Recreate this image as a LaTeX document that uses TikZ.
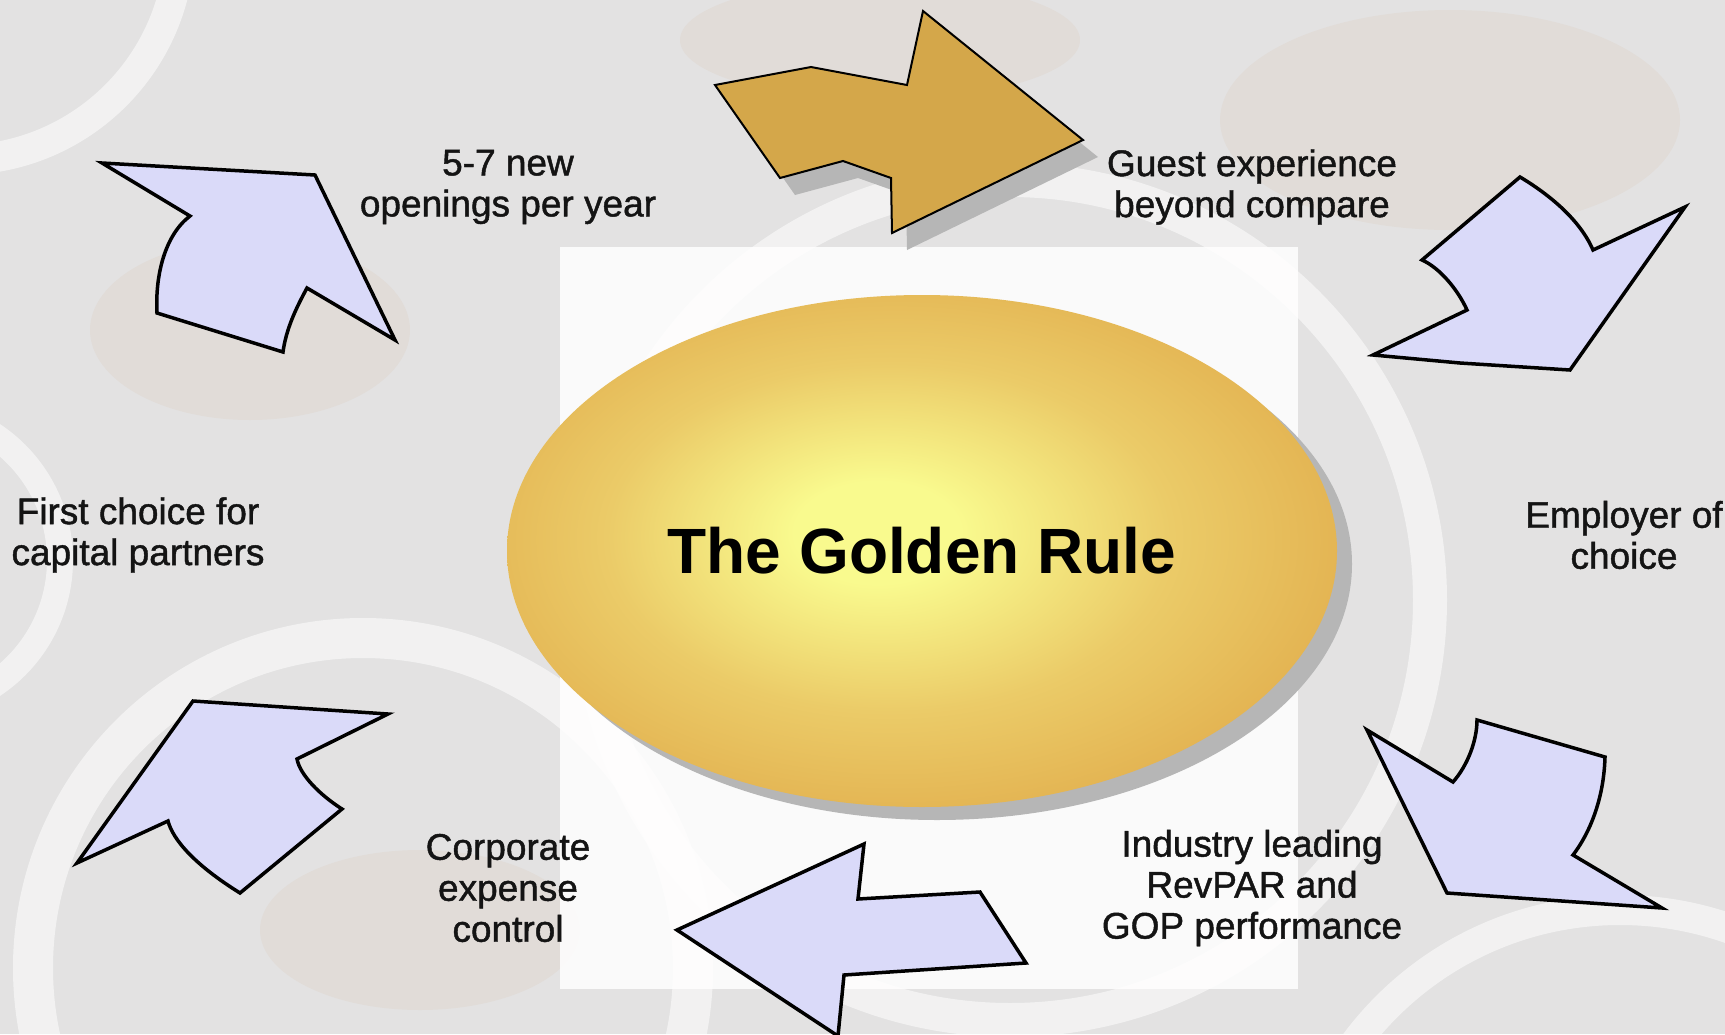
\documentclass[tikz,border=0pt]{standalone}
\usepackage{fontspec}
\setmainfont{Liberation Sans}
\usetikzlibrary{shapes.geometric}
\definecolor{bg}{HTML}{E3E2E2}
\definecolor{lav}{HTML}{DADAF9}
\definecolor{goldarrow}{HTML}{D4A74A}
\definecolor{goldedge}{HTML}{E1AD4C}
\definecolor{goldmid}{HTML}{EBCB68}
\definecolor{goldcore}{HTML}{F9FA8E}
\definecolor{shadowgray}{HTML}{B6B6B6}
\definecolor{warm}{HTML}{C8803A}
\pgfdeclareradialshading{goldshade}{\pgfpoint{-3bp}{2bp}}{color(0bp)=(goldcore); color(5bp)=(goldcore); color(17bp)=(goldmid); color(30bp)=(goldedge); color(50bp)=(goldedge)}
\tikzset{
  lavarrow/.style={fill=lav, draw=black, line width=3.5pt, line join=miter},
  goldarr/.style={fill=goldarrow, draw=black, line width=2pt, line join=miter},
  shadowfill/.style={fill=shadowgray},
  lbl/.style={align=center, inner sep=0pt, text=black!92, font=\addfontfeature{FakeBold=1.2}\fontsize{37}{41}\selectfont},
  bgring/.style={draw=white, opacity=0.55},
  bgwarm/.style={fill=warm, opacity=0.06}
}
\begin{document}
\begin{tikzpicture}[x=1pt,y=-1pt]
\useasboundingbox (0,0) rectangle (1725,1034);
% background photo (approximation)
\fill[bg] (0,0) rectangle (1725,1034);
\begin{scope}
\clip (0,0) rectangle (1725,1034);
\fill[bgwarm] (250,330) ellipse[x radius=160, y radius=90];
\fill[bgwarm] (880,40) ellipse[x radius=200, y radius=60];
\fill[bgwarm] (1450,120) ellipse[x radius=230, y radius=110];
\fill[bgwarm] (420,930) ellipse[x radius=160, y radius=80];
\draw[bgring, line width=40] (363,968) circle[radius=330];
\draw[bgring, line width=34] (1010,600) circle[radius=420];
\draw[bgring, line width=30] (1620,1240) circle[radius=330];
\draw[bgring, line width=30] (-40,-60) circle[radius=220];
\draw[bgring, line width=26] (-90,560) circle[radius=150];
\fill[white, opacity=0.85] (560,247) rectangle (1298,989);
\end{scope}
% top gold arrow with shadow
\fill[shadowfill, shift={(15,17)}] (715,85) -- (811,67) -- (907,85) -- (923,11) -- (1083,140) -- (892,233) -- (891,178) -- (843,161) -- (780,178) -- cycle;
\path[goldarr] (715,85) -- (811,67) -- (907,85) -- (923,11) -- (1083,140) -- (892,233) -- (891,178) -- (843,161) -- (780,178) -- cycle;
% upper right arrow
\path[lavarrow] (1520,177) .. controls (1550,195) and (1580,220) .. (1593,250) -- (1685,207) -- (1570,370) -- (1460,363) -- (1373,355) -- (1467,310) .. controls (1458,290) and (1440,268) .. (1422,260) -- cycle;
% lower right arrow
\path[lavarrow] (1367,730) -- (1453,782) .. controls (1468,765) and (1477,740) .. (1477,720) -- (1605,757) .. controls (1604,795) and (1592,830) .. (1573,855) -- (1662,908) -- (1447,893) -- cycle;
% bottom arrow
\path[lavarrow] (677,930) -- (864,844) -- (858,899) -- (980,892) -- (1026,963) -- (844,975) -- (838,1036) -- cycle;
% lower left arrow
\path[lavarrow] (77,863) -- (193,701) -- (388,714) -- (297,759) .. controls (300,775) and (320,795) .. (342,809) -- (240,893) .. controls (195,865) and (173,840) .. (168,821) -- cycle;
% upper left arrow
\path[lavarrow] (102,163) -- (315,175) -- (395,340) -- (307,288) .. controls (295,310) and (286,330) .. (283,352) -- (157,313) .. controls (155,275) and (165,235) .. (190,216) -- cycle;
% central ellipse with shadow
\fill[shadowfill] (937,564) ellipse[x radius=415, y radius=256];
\node[ellipse, minimum width=830, minimum height=512, inner sep=0pt, shading=goldshade, font=\fontsize{64}{70}\selectfont\bfseries] (rule) at (922,551) {The Golden Rule};
% labels
\node[lbl] (open) at (508,187) {5-7 new\\openings per year};
\node[lbl] (guest) at (1252,187) {Guest experience\\beyond compare};
\node[lbl] (empl) at (1624,535) {Employer of\\choice};
\node[lbl] (first) at (138,535) {First choice for\\capital partners};
\node[lbl] (corp) at (508,888) {Corporate\\expense\\control};
\node[lbl] (ind) at (1252,888) {Industry leading\\RevPAR and\\GOP performance};
\end{tikzpicture}
\end{document}
